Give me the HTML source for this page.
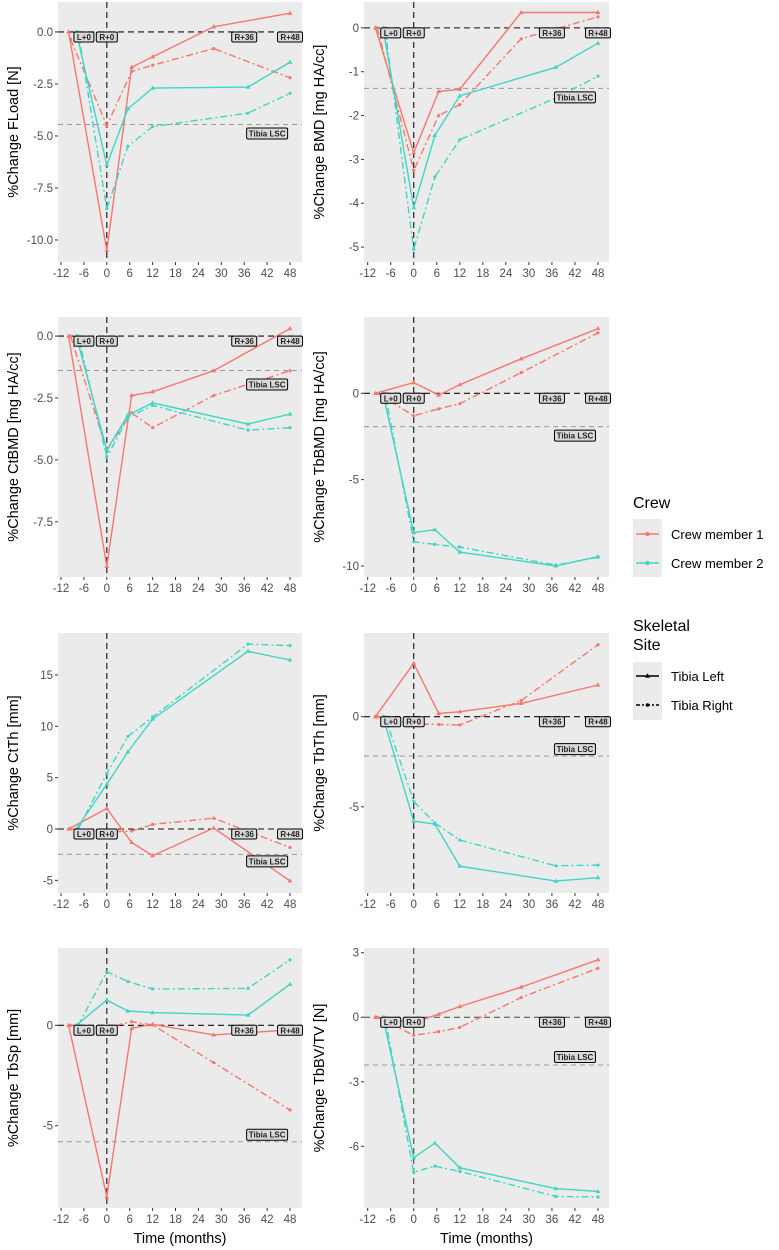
<!DOCTYPE html>
<html><head><meta charset="utf-8"><style>
body{margin:0;background:#fff;}
svg{display:block;font-family:"Liberation Sans",sans-serif;}
</style></head><body>
<svg id="chart" width="779" height="1250" viewBox="0 0 779 1250" xmlns="http://www.w3.org/2000/svg"></svg>
<script>
const xTicks=[-12,-6,0,6,12,18,24,30,36,42,48];
const crew1Times=[-10,0,6.5,12,28,48];
const crew2Times=[-8,0,5.5,12,37,48];
// FLoad
const floadC1L=[0,-10.5,-1.7,-1.2,0.25,0.9];
const floadC1R=[-0.35,-4.5,-1.9,-1.6,-0.8,-2.2];
const floadC2L=[0,-6.4,-3.7,-2.7,-2.65,-1.45];
const floadC2R=[0,-8.5,-5.5,-4.55,-3.9,-2.95];
// BMD
const bmdC1L=[0,-2.85,-1.45,-1.4,0.35,0.35];
const bmdC1R=[0,-3.25,-2.0,-1.75,-0.25,0.25];
const bmdC2L=[0,-4.1,-2.45,-1.55,-0.9,-0.35];
const bmdC2R=[0,-5.05,-3.4,-2.55,-1.6,-1.1];
// CtBMD
const ctbmdC1L=[0,-9.3,-2.4,-2.25,-1.4,0.3];
const ctbmdC1R=[0,-4.6,-3.1,-3.7,-2.4,-1.4];
const ctbmdC2L=[0,-4.6,-3.2,-2.7,-3.55,-3.15];
const ctbmdC2R=[0,-4.9,-3.3,-2.8,-3.8,-3.7];
// TbBMD
const tbbmdC1L=[0,0.62,-0.1,0.5,2.0,3.75];
const tbbmdC1R=[0,-1.3,-0.9,-0.6,1.2,3.5];
const tbbmdC2L=[0,-8.07,-7.9,-9.2,-10.0,-9.45];
const tbbmdC2R=[0,-8.6,-8.75,-8.9,-9.95,-9.5];
// CtTh
const ctthC1L=[0,2.0,-1.3,-2.6,0.1,-5.05];
const ctthC1R=[0,-0.3,-0.2,0.45,1.05,-1.8];
const ctthC2L=[0,4.35,7.5,10.7,17.3,16.45];
const ctthC2R=[0,5.4,9.0,10.9,18.0,17.85];
// TbTh
const tbthC1L=[0,2.96,0.18,0.28,0.74,1.76];
const tbthC1R=[0,-0.4,-0.43,-0.46,0.9,4.0];
const tbthC2L=[0,-5.8,-5.96,-8.3,-9.13,-8.94];
const tbthC2R=[0,-4.7,-5.9,-6.85,-8.28,-8.24];
// TbSp
const tbspC1L=[0,-8.54,-0.15,0.05,-0.48,-0.23];
const tbspC1R=[0,-0.1,0.18,0.02,-1.86,-4.22];
const tbspC2L=[0,1.26,0.71,0.63,0.51,2.04];
const tbspC2R=[0,2.67,2.18,1.81,1.84,3.26];
// TbBV/TV
const tbbvC1L=[0,-0.25,0.14,0.5,1.4,2.67];
const tbbvC1R=[0,-0.84,-0.67,-0.47,0.92,2.28];
const tbbvC2L=[0,-6.53,-5.85,-7.0,-7.97,-8.1];
const tbbvC2R=[0,-7.2,-6.92,-7.17,-8.33,-8.36];
// LSC thresholds
const lscValues=[-4.45,-1.38,-1.39,-1.93,-2.47,-2.19,-5.8,-2.22];
const yTickSets=[[0,-2.5,-5,-7.5,-10],[0,-1,-2,-3,-4,-5],[0,-2.5,-5,-7.5],[0,-5,-10],[-5,0,5,10,15],[0,-5],[0,-5],[3,0,-3,-6]];
const yTickLabels=[["0.0","-2.5","-5.0","-7.5","-10.0"],["0","-1","-2","-3","-4","-5"],["0.0","-2.5","-5.0","-7.5"],["0","-5","-10"],["-5","0","5","10","15"],["0","-5"],["0","-5"],["3","0","-3","-6"]];
const yTitles=["%Change FLoad [N]","%Change BMD [mg HA/cc]","%Change CtBMD [mg HA/cc]","%Change TbBMD [mg HA/cc]","%Change CtTh [mm]","%Change TbTh [mm]","%Change TbSp [mm]","%Change TbBV/TV [N]"];
const panelSeries=[
 [floadC1L,floadC1R,floadC2L,floadC2R],[bmdC1L,bmdC1R,bmdC2L,bmdC2R],
 [ctbmdC1L,ctbmdC1R,ctbmdC2L,ctbmdC2R],[tbbmdC1L,tbbmdC1R,tbbmdC2L,tbbmdC2R],
 [ctthC1L,ctthC1R,ctthC2L,ctthC2R],[tbthC1L,tbthC1R,tbthC2L,tbthC2R],
 [tbspC1L,tbspC1R,tbspC2L,tbspC2R],[tbbvC1L,tbbvC1R,tbbvC2L,tbbvC2R]];
const panelNames=["fload","bmd","ctbmd","tbbmd","ctth","tbth","tbsp","tbbvtv"];

// geometry (layout, not data)
const rowsY=[[2,262],[317,577],[633,893],[948,1208]];
const colsX=[[58,302,-12.79,51.14],[364,609,-12.96,50.87]];
const yDomains=[[1.44,-11.06],[0.59,-5.34],[0.77,-9.73],[4.42,-10.64],[19.08,-6.23],[4.65,-9.79],[3.85,-9.1],[3.22,-8.87]];
const lscOffsets=[9,9,14,9,7,-7,-7,-8];
const RED="#F8766D",CYAN="#40D5C4";

const svg=document.getElementById('chart');
const NS="http://www.w3.org/2000/svg";
function mk(tag,attrs,parent){const e=document.createElementNS(NS,tag);for(const k in attrs)e.setAttribute(k,attrs[k]);(parent||svg).appendChild(e);return e;}

for(let p=0;p<8;p++){
  const row=Math.floor(p/2),col=p%2;
  const [px0,px1,dx0,dx1]=colsX[col];
  const [py0,py1]=rowsY[row];
  const [dy0,dy1]=yDomains[p];
  const X=v=>px0+(v-dx0)/(dx1-dx0)*(px1-px0);
  const Y=v=>py0+(v-dy0)/(dy1-dy0)*(py1-py0);
  const g=mk('g',{});
  
  
  const bg=mk('rect',{x:px0,y:py0,width:px1-px0,height:py1-py0,fill:'#EBEBEB'},g);
  
  
  xTicks.forEach(t=>{
    const x=X(t);
    mk('line',{x1:x,x2:x,y1:py1,y2:py1+3,stroke:'#333','stroke-width':1},g);
    const tl=mk('text',{x:x,y:py1+15,'text-anchor':'middle','font-size':11.5,fill:'#4D4D4D'},g);
    tl.textContent=t;
    
    
  });
  yTickSets[p].forEach((t,i)=>{
    const y=Y(t);
    mk('line',{x1:px0-3,x2:px0,y1:y,y2:y,stroke:'#333','stroke-width':1},g);
    const tl=mk('text',{x:px0-5,y:y+4,'text-anchor':'end','font-size':11.5,fill:'#4D4D4D'},g);
    tl.textContent=yTickLabels[p][i];
    
    
  });
  const tx=col===0?18:324, ty=(py0+py1)/2;
  const yt=mk('text',{x:tx,y:ty,'text-anchor':'middle','font-size':14.5,fill:'#000',transform:`rotate(-90 ${tx} ${ty})`},g);
  yt.textContent=yTitles[p];
  
  
  const lsc=mk('line',{x1:px0,x2:px1,y1:Y(lscValues[p]),y2:Y(lscValues[p]),stroke:'#999','stroke-width':1,'stroke-dasharray':'5,4'},g);
  
  
  const refCol=p===7?'#444':'#111';
  const zl=mk('line',{x1:px0,x2:px1,y1:Y(0),y2:Y(0),stroke:refCol,'stroke-width':1.1,'stroke-dasharray':'6,4'},g);
  
  
  const vl=mk('line',{x1:X(0),x2:X(0),y1:py0,y2:py1,stroke:refCol,'stroke-width':1.1,'stroke-dasharray':'6,4'},g);
  
  
  const series=panelSeries[p];
  [[series[0],crew1Times,RED,false],[series[1],crew1Times,RED,true],[series[2],crew2Times,CYAN,false],[series[3],crew2Times,CYAN,true]].forEach(([vals,times,color,dash],si)=>{
    const pts=vals.map((v,i)=>X(times[i]+(dash&&i===0?0.5:0)).toFixed(1)+','+Y(v).toFixed(1)).join(' ');
    const pl=mk('polyline',{points:pts,fill:'none',stroke:color,'stroke-width':1.4,'stroke-dasharray':dash?'7,3,2,3':'none'},g);
    
    
    vals.forEach((v,i)=>{
      const cx=X(times[i]+(dash&&i===0?0.5:0)),cy=Y(v);
      let m;
      if(dash) m=mk('circle',{cx:cx,cy:cy,r:1.6,fill:color},g);
      else m=mk('polygon',{points:`${cx},${cy-2.6} ${cx-2.4},${cy+1.6} ${cx+2.4},${cy+1.6}`,fill:color},g);
      
      
    });
  });
  [['L+0',-6,20],['R+0',0,21],['R+36',36,25],['R+48',48,25]].forEach(([txt,m,w])=>{
    const cx=X(m),cy=Y(0)+5;
    const lg=mk('g',{},g);
    
    
    mk('rect',{x:cx-w/2,y:cy-5,width:w,height:10,rx:1.5,fill:'#D9D9D9',stroke:'#000','stroke-width':1},lg);
    const t=mk('text',{x:cx,y:cy+3,'text-anchor':'middle','font-size':8,'font-weight':'bold',fill:'#222'},lg);
    t.textContent=txt;
  });
  const lcx=X(42),lcy=Y(lscValues[p])+lscOffsets[p];
  const lg=mk('g',{},g);
  
  
  mk('rect',{x:lcx-20.5,y:lcy-5.5,width:41,height:11,rx:1.5,fill:'#D9D9D9',stroke:'#000','stroke-width':1},lg);
  const lt=mk('text',{x:lcx,y:lcy+3,'text-anchor':'middle','font-size':8,'font-weight':'bold',fill:'#222'},lg);
  lt.textContent='Tibia LSC';
  if(row===3){
    const xt=mk('text',{x:(px0+px1)/2,y:1243,'text-anchor':'middle','font-size':14.5,fill:'#000'},g);
    xt.textContent='Time (months)';
    
    
  }
}
const leg=mk('g',{});


const lt1=mk('text',{x:633,y:508,'font-size':16,fill:'#000'},leg);lt1.textContent='Crew';
mk('rect',{x:633,y:519,width:29,height:58,fill:'#EBEBEB'},leg);
[['Crew member 1',RED,534],['Crew member 2',CYAN,563]].forEach(([t,c,y])=>{
  const e=mk('g',{},leg);
  
  
  mk('line',{x1:636,x2:659,y1:y,y2:y,stroke:c,'stroke-width':1.4},e);
  mk('circle',{cx:647.5,cy:y,r:2.2,fill:c},e);
  const tx=mk('text',{x:671,y:y+5,'font-size':13,fill:'#000'},e);tx.textContent=t;
});
const lt2=mk('text',{x:633,y:631,'font-size':16,fill:'#000'},leg);lt2.textContent='Skeletal';
const lt3=mk('text',{x:633,y:650,'font-size':16,fill:'#000'},leg);lt3.textContent='Site';
mk('rect',{x:633,y:662,width:29,height:58,fill:'#EBEBEB'},leg);
[['Tibia Left',676,false],['Tibia Right',705,true]].forEach(([t,y,d])=>{
  const e=mk('g',{},leg);
  
  
  mk('line',{x1:636,x2:659,y1:y,y2:y,stroke:'#000','stroke-width':1.4,'stroke-dasharray':d?'4,2,2,2':'none'},e);
  if(d) mk('circle',{cx:647.5,cy:y,r:1.8,fill:'#000'},e);
  else mk('polygon',{points:`647.5,${y-2.8} 645,${y+1.6} 650,${y+1.6}`,fill:'#000'},e);
  const tx=mk('text',{x:671,y:y+5,'font-size':13,fill:'#000'},e);tx.textContent=t;
});
</script>
</body></html>
